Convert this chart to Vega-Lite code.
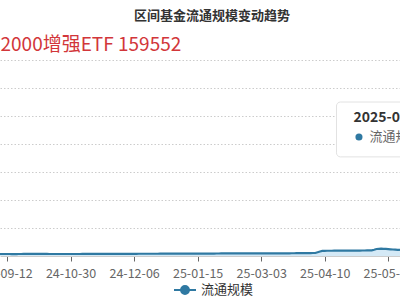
{
  "$schema": "https://vega.github.io/schema/vega-lite/v6.json",
  "width": 400,
  "height": 196,
  "autosize": {"type": "none"},
  "padding": {"left": 0, "top": 60, "right": 0, "bottom": 44},
  "background": "white",
  "title": {
    "text": "区间基金流通规模变动趋势",
    "frame": "group",
    "anchor": "middle",
    "dx": 12,
    "offset": 2,
    "baseline": "alphabetic",
    "fontSize": 13,
    "font": "Noto Sans CJK SC",
    "fontWeight": "bold",
    "color": "#333333"
  },
  "config": {"view": {"stroke": null}, "font": "Noto Sans CJK SC"},
  "datasets": {
    "flow": [
      {"d": "24-09-09", "v": 0.72}, {"d": "24-09-10", "v": 0.72}, {"d": "24-09-11", "v": 0.71}, {"d": "24-09-12", "v": 0.71},
      {"d": "24-09-13", "v": 0.71}, {"d": "24-09-18", "v": 0.70}, {"d": "24-09-19", "v": 0.70}, {"d": "24-09-20", "v": 0.70},
      {"d": "24-09-23", "v": 0.71}, {"d": "24-09-24", "v": 0.72}, {"d": "24-09-25", "v": 0.73}, {"d": "24-09-26", "v": 0.74},
      {"d": "24-09-27", "v": 0.74}, {"d": "24-09-30", "v": 0.74},
      {"d": "24-10-08", "v": 0.76}, {"d": "24-10-09", "v": 0.75}, {"d": "24-10-10", "v": 0.74}, {"d": "24-10-11", "v": 0.74},
      {"d": "24-10-14", "v": 0.73}, {"d": "24-10-15", "v": 0.73}, {"d": "24-10-16", "v": 0.73}, {"d": "24-10-17", "v": 0.72},
      {"d": "24-10-18", "v": 0.72}, {"d": "24-10-21", "v": 0.72}, {"d": "24-10-22", "v": 0.72}, {"d": "24-10-23", "v": 0.72},
      {"d": "24-10-24", "v": 0.71}, {"d": "24-10-25", "v": 0.71}, {"d": "24-10-28", "v": 0.71}, {"d": "24-10-29", "v": 0.71},
      {"d": "24-10-30", "v": 0.71}, {"d": "24-10-31", "v": 0.72},
      {"d": "24-11-01", "v": 0.72}, {"d": "24-11-04", "v": 0.72}, {"d": "24-11-05", "v": 0.72}, {"d": "24-11-06", "v": 0.73},
      {"d": "24-11-07", "v": 0.73}, {"d": "24-11-08", "v": 0.73}, {"d": "24-11-11", "v": 0.74}, {"d": "24-11-12", "v": 0.74},
      {"d": "24-11-13", "v": 0.74}, {"d": "24-11-14", "v": 0.75}, {"d": "24-11-15", "v": 0.75}, {"d": "24-11-18", "v": 0.75},
      {"d": "24-11-19", "v": 0.76}, {"d": "24-11-20", "v": 0.76}, {"d": "24-11-21", "v": 0.76}, {"d": "24-11-22", "v": 0.77},
      {"d": "24-11-25", "v": 0.77}, {"d": "24-11-26", "v": 0.77}, {"d": "24-11-27", "v": 0.78}, {"d": "24-11-28", "v": 0.78},
      {"d": "24-11-29", "v": 0.78},
      {"d": "24-12-02", "v": 0.78}, {"d": "24-12-03", "v": 0.78}, {"d": "24-12-04", "v": 0.79}, {"d": "24-12-05", "v": 0.79},
      {"d": "24-12-06", "v": 0.79}, {"d": "24-12-09", "v": 0.79}, {"d": "24-12-10", "v": 0.80}, {"d": "24-12-11", "v": 0.80},
      {"d": "24-12-12", "v": 0.80}, {"d": "24-12-13", "v": 0.80}, {"d": "24-12-16", "v": 0.80}, {"d": "24-12-17", "v": 0.81},
      {"d": "24-12-18", "v": 0.81}, {"d": "24-12-19", "v": 0.81}, {"d": "24-12-20", "v": 0.81}, {"d": "24-12-23", "v": 0.82},
      {"d": "24-12-24", "v": 0.82}, {"d": "24-12-25", "v": 0.82}, {"d": "24-12-26", "v": 0.82}, {"d": "24-12-27", "v": 0.82},
      {"d": "24-12-30", "v": 0.83}, {"d": "24-12-31", "v": 0.83},
      {"d": "25-01-02", "v": 0.83}, {"d": "25-01-03", "v": 0.84}, {"d": "25-01-06", "v": 0.84}, {"d": "25-01-07", "v": 0.84},
      {"d": "25-01-08", "v": 0.85}, {"d": "25-01-09", "v": 0.85}, {"d": "25-01-10", "v": 0.85}, {"d": "25-01-13", "v": 0.85},
      {"d": "25-01-14", "v": 0.86}, {"d": "25-01-15", "v": 0.86}, {"d": "25-01-16", "v": 0.86}, {"d": "25-01-17", "v": 0.87},
      {"d": "25-01-20", "v": 0.87}, {"d": "25-01-21", "v": 0.87}, {"d": "25-01-22", "v": 0.88}, {"d": "25-01-23", "v": 0.88},
      {"d": "25-01-24", "v": 0.88}, {"d": "25-01-27", "v": 0.89},
      {"d": "25-02-05", "v": 0.90}, {"d": "25-02-06", "v": 0.91}, {"d": "25-02-07", "v": 0.92}, {"d": "25-02-10", "v": 0.93},
      {"d": "25-02-11", "v": 0.94}, {"d": "25-02-12", "v": 0.95}, {"d": "25-02-13", "v": 0.95}, {"d": "25-02-14", "v": 0.96},
      {"d": "25-02-17", "v": 0.96}, {"d": "25-02-18", "v": 0.96}, {"d": "25-02-19", "v": 0.95}, {"d": "25-02-20", "v": 0.95},
      {"d": "25-02-21", "v": 0.94}, {"d": "25-02-24", "v": 0.94}, {"d": "25-02-25", "v": 0.93}, {"d": "25-02-26", "v": 0.93},
      {"d": "25-02-27", "v": 0.92}, {"d": "25-02-28", "v": 0.92},
      {"d": "25-03-03", "v": 0.92}, {"d": "25-03-04", "v": 0.92}, {"d": "25-03-05", "v": 0.92}, {"d": "25-03-06", "v": 0.93},
      {"d": "25-03-07", "v": 0.93}, {"d": "25-03-10", "v": 0.93}, {"d": "25-03-11", "v": 0.94}, {"d": "25-03-12", "v": 0.94},
      {"d": "25-03-13", "v": 0.94}, {"d": "25-03-14", "v": 0.95}, {"d": "25-03-17", "v": 0.95}, {"d": "25-03-18", "v": 0.96},
      {"d": "25-03-19", "v": 0.97}, {"d": "25-03-20", "v": 0.98}, {"d": "25-03-21", "v": 0.99}, {"d": "25-03-24", "v": 1.00},
      {"d": "25-03-25", "v": 1.01}, {"d": "25-03-26", "v": 1.02}, {"d": "25-03-27", "v": 1.03}, {"d": "25-03-28", "v": 1.04},
      {"d": "25-03-31", "v": 1.05},
      {"d": "25-04-01", "v": 1.06}, {"d": "25-04-02", "v": 1.07}, {"d": "25-04-03", "v": 1.08}, {"d": "25-04-07", "v": 1.35},
      {"d": "25-04-08", "v": 1.62}, {"d": "25-04-09", "v": 1.80}, {"d": "25-04-10", "v": 1.86}, {"d": "25-04-11", "v": 1.87},
      {"d": "25-04-14", "v": 1.88}, {"d": "25-04-15", "v": 1.88}, {"d": "25-04-16", "v": 1.89}, {"d": "25-04-17", "v": 1.89},
      {"d": "25-04-18", "v": 1.90}, {"d": "25-04-21", "v": 1.90}, {"d": "25-04-22", "v": 1.91}, {"d": "25-04-23", "v": 1.91},
      {"d": "25-04-24", "v": 1.92}, {"d": "25-04-25", "v": 1.92}, {"d": "25-04-28", "v": 1.93}, {"d": "25-04-29", "v": 1.93},
      {"d": "25-04-30", "v": 1.94},
      {"d": "25-05-06", "v": 1.95}, {"d": "25-05-07", "v": 1.96}, {"d": "25-05-08", "v": 1.97}, {"d": "25-05-09", "v": 1.98},
      {"d": "25-05-12", "v": 1.99}, {"d": "25-05-13", "v": 2.00}, {"d": "25-05-14", "v": 2.22}, {"d": "25-05-15", "v": 2.50},
      {"d": "25-05-16", "v": 2.58}, {"d": "25-05-19", "v": 2.60}, {"d": "25-05-20", "v": 2.57}, {"d": "25-05-21", "v": 2.52},
      {"d": "25-05-22", "v": 2.46}, {"d": "25-05-23", "v": 2.40}, {"d": "25-05-26", "v": 2.33}, {"d": "25-05-27", "v": 2.27},
      {"d": "25-05-28", "v": 2.22}, {"d": "25-05-29", "v": 2.18}
    ],
    "tip": [
      {"d": "25-04-17", "d_end": "25-05-29", "top": 55.0, "bottom": 35.4, "head": "2025-05-29", "name": "流通规模"}
    ]
  },
  "layer": [
    {
      "data": {"name": "flow"},
      "mark": {"type": "area", "color": "#d4e9f6", "opacity": 1},
      "encoding": {
        "x": {
          "field": "d",
          "type": "ordinal",
          "title": null,
          "scale": {"type": "point", "padding": 0},
          "axis": {
            "values": ["24-09-12", "24-10-30", "24-12-06", "25-01-15", "25-03-03", "25-04-10", "25-05-22"],
            "labelAngle": 0,
            "labelFontSize": 12.5,
            "labelColor": "#666666",
            "labelFont": "Noto Sans CJK SC",
            "labelPadding": 6,
            "labelBound": false,
            "labelFlush": false,
            "labelOverlap": false,
            "tickColor": "#666666",
            "tickSize": 5,
            "domainColor": "#cccccc",
            "grid": false
          }
        },
        "y": {
          "field": "v",
          "type": "quantitative",
          "title": "2000增强ETF 159552",
          "scale": {"domain": [0, 70], "nice": false},
          "axis": {
            "values": [10, 20, 30, 40, 50, 60, 70],
            "tickCount": 7,
            "labels": false,
            "labelOverlap": false,
            "ticks": false,
            "domain": false,
            "grid": true,
            "gridColor": "#cccccc",
            "gridDash": [1.5, 2],
            "titleAngle": 0,
            "titleX": 0,
            "titleY": -10,
            "titleAlign": "left",
            "titleBaseline": "alphabetic",
            "titleFontSize": 19,
            "titleFontWeight": "normal",
            "titleFont": "Noto Sans CJK SC",
            "titleColor": "#d2363a"
          }
        }
      }
    },
    {
      "data": {"name": "flow"},
      "mark": {"type": "line", "strokeWidth": 2.2},
      "encoding": {
        "x": {"field": "d", "type": "ordinal", "title": null},
        "y": {"field": "v", "type": "quantitative", "title": "2000增强ETF 159552"},
        "color": {
          "datum": "流通规模",
          "scale": {"range": ["#2f79a2"]},
          "legend": {
            "orient": "none",
            "legendX": 173,
            "legendY": 218,
            "title": null,
            "symbolType": "M-1,0H1M-0.36,0A0.36,0.36 0 1,1 0.36,0A0.36,0.36 0 1,1 -0.36,0",
            "symbolSize": 484,
            "symbolStrokeWidth": 2,
            "symbolFillColor": "#2f79a2",
            "labelFontSize": 13,
            "labelColor": "#333333",
            "labelFont": "Noto Sans CJK SC"
          }
        }
      }
    },
    {
      "data": {"name": "tip"},
      "mark": {"type": "rect", "fill": "white", "stroke": "#e2e2e2", "strokeWidth": 1, "cornerRadius": 4, "x2Offset": 20},
      "encoding": {
        "x": {"field": "d", "type": "ordinal", "title": null},
        "x2": {"field": "d_end"},
        "y": {"field": "top", "type": "quantitative", "title": "2000增强ETF 159552"},
        "y2": {"field": "bottom"}
      }
    },
    {
      "data": {"name": "tip"},
      "mark": {"type": "text", "align": "left", "baseline": "alphabetic", "dx": 17, "dy": 20, "fontSize": 14, "fontWeight": "bold", "color": "#333333", "font": "Noto Sans CJK SC"},
      "encoding": {
        "x": {"field": "d", "type": "ordinal", "title": null},
        "y": {"field": "top", "type": "quantitative", "title": "2000增强ETF 159552"},
        "text": {"field": "head"}
      }
    },
    {
      "data": {"name": "tip"},
      "mark": {"type": "circle", "xOffset": 22.5, "yOffset": 35, "size": 50, "opacity": 1, "color": "#2f79a2"},
      "encoding": {
        "x": {"field": "d", "type": "ordinal", "title": null},
        "y": {"field": "top", "type": "quantitative", "title": "2000增强ETF 159552"}
      }
    },
    {
      "data": {"name": "tip"},
      "mark": {"type": "text", "align": "left", "baseline": "middle", "dx": 33, "dy": 35, "fontSize": 13, "color": "#666666", "font": "Noto Sans CJK SC"},
      "encoding": {
        "x": {"field": "d", "type": "ordinal", "title": null},
        "y": {"field": "top", "type": "quantitative", "title": "2000增强ETF 159552"},
        "text": {"field": "name"}
      }
    }
  ]
}
